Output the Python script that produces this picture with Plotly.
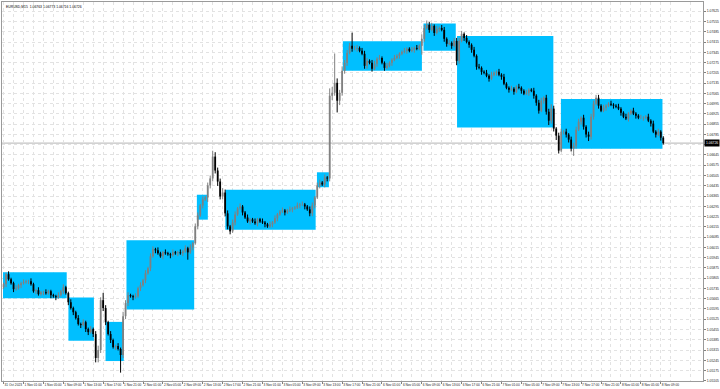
import plotly.graph_objects as go

# ---------------- data (EURUSD, 30-min candles) ----------------
first_open = 1.05743
closes = [
    1.05764, 1.05832, 1.05798, 1.05771, 1.05730, 1.05737, 1.05757, 1.05771, 1.05777, 1.05784,
    1.05784, 1.05764, 1.05716, 1.05723, 1.05696, 1.05709, 1.05709, 1.05703, 1.05716, 1.05689,
    1.05682, 1.05675, 1.05689, 1.05716, 1.05743, 1.05703, 1.05641, 1.05601, 1.05573, 1.05533,
    1.05492, 1.05485, 1.05505, 1.05458, 1.05437, 1.05458, 1.05424, 1.05261, 1.05315, 1.05655,
    1.05601, 1.05505, 1.05424, 1.05383, 1.05335, 1.05342, 1.05322, 1.05281, 1.05546, 1.05635,
    1.05689, 1.05682, 1.05675, 1.05682, 1.05737, 1.05757, 1.05791, 1.05839, 1.05873, 1.05954,
    1.06002, 1.05995, 1.05975, 1.05954, 1.05981, 1.05975, 1.05968, 1.05961, 1.05981, 1.05975,
    1.05981, 1.05975, 1.05988, 1.06009, 1.05981, 1.06015, 1.06043, 1.06158, 1.06233, 1.06301,
    1.06342, 1.06355, 1.06437, 1.06485, 1.06634, 1.06539, 1.06464, 1.06362, 1.06389, 1.06247,
    1.06158, 1.06124, 1.06185, 1.06240, 1.06281, 1.06294, 1.06253, 1.06219, 1.06192, 1.06206,
    1.06192, 1.06179, 1.06206, 1.06192, 1.06185, 1.06172, 1.06158, 1.06172, 1.06185, 1.06213,
    1.06240, 1.06260, 1.06267, 1.06253, 1.06267, 1.06274, 1.06281, 1.06287, 1.06301, 1.06308,
    1.06308, 1.06294, 1.06274, 1.06247, 1.06301, 1.06355, 1.06437, 1.06457, 1.06444, 1.06491,
    1.06485, 1.07049, 1.07069, 1.07137, 1.07015, 1.07069, 1.07219, 1.07273, 1.07341, 1.07389,
    1.07369, 1.07369, 1.07375, 1.07355, 1.07335, 1.07253, 1.07287, 1.07273, 1.07233, 1.07267,
    1.07301, 1.07307, 1.07273, 1.07239, 1.07253, 1.07273, 1.07294, 1.07307, 1.07321, 1.07335,
    1.07348, 1.07355, 1.07369, 1.07355, 1.07362, 1.07375, 1.07369, 1.07389, 1.07437, 1.07511,
    1.07532, 1.07498, 1.07525, 1.07477, 1.07505, 1.07511, 1.07498, 1.07437, 1.07403, 1.07409,
    1.07389, 1.07423, 1.07287, 1.07423, 1.07471, 1.07443, 1.07416, 1.07396, 1.07362, 1.07321,
    1.07246, 1.07239, 1.07212, 1.07205, 1.07185, 1.07165, 1.07192, 1.07205, 1.07212, 1.07192,
    1.07178, 1.07131, 1.07103, 1.07090, 1.07097, 1.07076, 1.07110, 1.07103, 1.07083, 1.07063,
    1.07069, 1.07090, 1.07083, 1.07049, 1.07001, 1.06947, 1.07015, 1.07035, 1.06940, 1.06879,
    1.06961, 1.06825, 1.06777, 1.06675, 1.06804, 1.06804, 1.06784, 1.06750, 1.06689, 1.06709,
    1.06818, 1.06872, 1.06899, 1.06838, 1.06784, 1.06770, 1.06906, 1.06995, 1.07035, 1.06981,
    1.06947, 1.06967, 1.06981, 1.06995, 1.06988, 1.06981, 1.06974, 1.06961, 1.06933, 1.06906,
    1.06893, 1.06927, 1.06947, 1.06927, 1.06913, 1.06899, 1.06899, 1.06899, 1.06906, 1.06879,
    1.06859, 1.06804, 1.06784, 1.06804, 1.06763, 1.06726,
]
# upper / lower wick length beyond the body, in pips
wick_up = [
    1, 1, 2, 1, 1, 2, 1, 1, 2, 1,  1, 2, 1, 1, 2, 1, 1, 2, 1, 1,
    1, 1, 2, 1, 2, 1, 1, 2, 1, 1,  2, 1, 2, 1, 1, 2, 1, 2, 3, 2,
    5, 2, 1, 2, 1, 1, 2, 1, 3, 2,  2, 1, 1, 2, 1, 2, 1, 2, 1, 2,
    2, 1, 2, 1, 1, 2, 1, 1, 2, 1,  1, 2, 1, 2, 1, 2, 1, 2, 2, 1,
    2, 1, 2, 2, 4, 3, 2, 2, 3, 2,  2, 1, 2, 2, 1, 2, 1, 1, 2, 1,
    1, 2, 1, 1, 2, 1, 1, 2, 1, 2,  1, 1, 2, 1, 1, 2, 1, 1, 2, 1,
    2, 1, 1, 2, 2, 1, 2, 2, 1, 2,  1, 5, 4, 20, 3, 2, 3, 2, 2, 2,
    9, 2, 2, 1, 2, 2, 2, 1, 2, 2,  1, 2, 1, 1, 2, 1, 1, 2, 1, 1,
    1, 2, 1, 1, 2, 1, 2, 1, 3, 2,  3, 2, 2, 1, 2, 1, 2, 2, 1, 2,
    1, 2, 2, 2, 2, 1, 2, 1, 1, 2,  1, 2, 1, 1, 2, 1, 2, 1, 1, 2,
    1, 2, 1, 1, 2, 1, 1, 2, 1, 1,  2, 1, 1, 2, 1, 2, 2, 1, 2, 2,
    3, 2, 1, 2, 2, 1, 2, 1, 2, 2,  2, 2, 1, 2, 1, 2, 2, 2, 2, 2,
    1, 2, 1, 1, 2, 1, 1, 2, 1, 1,  2, 1, 1, 2, 1, 1, 2, 1, 1, 2,
    1, 2, 1, 2, 1, 1,
]
wick_dn = [
    1, 2, 1, 1, 2, 1, 1, 2, 1, 1,  2, 1, 1, 2, 1, 1, 2, 1, 1, 2,
    1, 2, 1, 1, 2, 1, 2, 1, 2, 1,  1, 2, 1, 2, 2, 1, 2, 3, 3, 2,
    2, 2, 1, 2, 1, 2, 1, 12, 2, 2,  2, 1, 2, 1, 1, 2, 1, 2, 1, 2,
    1, 2, 1, 1, 2, 1, 1, 2, 1, 1,  2, 1, 2, 1, 5, 1, 2, 1, 2, 1,
    2, 1, 3, 2, 2, 2, 3, 2, 2, 2,  2, 2, 1, 2, 1, 1, 2, 1, 1, 2,
    1, 1, 2, 1, 1, 2, 1, 1, 2, 1,  2, 1, 1, 2, 1, 1, 2, 1, 1, 2,
    1, 2, 1, 2, 2, 2, 1, 2, 1, 2,  2, 2, 3, 2, 8, 3, 2, 2, 2, 1,
    2, 1, 2, 1, 1, 2, 2, 1, 2, 1,  2, 1, 1, 2, 1, 1, 2, 1, 1, 2,
    1, 1, 2, 1, 1, 2, 1, 1, 6, 2,  1, 2, 1, 2, 1, 2, 1, 2, 2, 1,
    2, 1, 3, 2, 1, 2, 1, 2, 2, 1,  2, 1, 2, 1, 1, 2, 1, 1, 2, 1,
    2, 1, 1, 2, 1, 2, 1, 1, 2, 1,  1, 2, 1, 2, 2, 2, 1, 2, 2, 3,
    2, 2, 3, 2, 1, 2, 2, 2, 2, 5,  2, 1, 2, 2, 2, 3, 2, 2, 1, 2,
    1, 1, 2, 1, 1, 2, 1, 1, 2, 1,  1, 2, 1, 1, 2, 1, 1, 2, 1, 1,
    2, 1, 2, 1, 2, 1,
]
# supply / demand zones: first candle, last candle (fractional), low, high
zone_start = [-0.24, 26.04, 40.96, 49.36, 77.64, 89.08, 125.88, 136.28, 168.68, 182.16, 223.88]
zone_end = [25.36, 36.28, 48.28, 76.56, 82.04, 125.36, 130.68, 168.04, 181.64, 220.84, 264.68]
zone_low = [1.05669, 1.05378, 1.05240, 1.05592, 1.06204, 1.06136, 1.06425, 1.07219, 1.07355, 1.06833, 1.06687]
zone_high = [1.05845, 1.05673, 1.05507, 1.06063, 1.06374, 1.06408, 1.06527, 1.07421, 1.07541, 1.07457, 1.07027]

time_labels = [
    "31 Oct 2023", "1 Nov 01:00", "1 Nov 05:00", "1 Nov 09:00", "1 Nov 13:00", "1 Nov 17:00",
    "1 Nov 21:00", "2 Nov 01:00", "2 Nov 05:00", "2 Nov 09:00", "2 Nov 13:00", "2 Nov 17:00",
    "2 Nov 21:00", "3 Nov 01:00", "3 Nov 05:00", "3 Nov 09:00", "3 Nov 13:00", "3 Nov 17:00",
    "3 Nov 21:00", "6 Nov 01:00", "6 Nov 05:00", "6 Nov 09:00", "6 Nov 13:00", "6 Nov 17:00",
    "6 Nov 21:00", "7 Nov 01:00", "7 Nov 05:00", "7 Nov 09:00", "7 Nov 13:00", "7 Nov 17:00",
    "7 Nov 21:00", "8 Nov 01:00", "8 Nov 05:00", "8 Nov 09:00",
]
price_labels = [
    1.07625, 1.07555, 1.07485, 1.07415, 1.07345, 1.07275, 1.07205, 1.07135, 1.07065, 1.06995,
    1.06925, 1.06855, 1.06785, 1.06715, 1.06645, 1.06575, 1.06505, 1.06435, 1.06365, 1.06295,
    1.06225, 1.06155, 1.06085, 1.06015, 1.05945, 1.05875, 1.05805, 1.05735, 1.05665, 1.05595,
    1.05525, 1.05455, 1.05385, 1.05315, 1.05245, 1.05175, 1.05105,
]
BARS_PER_LABEL = 8   # 4 hours of 30-min candles
PIP = 0.0001

# ---------------- build OHLC ----------------
opens = [first_open] + closes[:-1]
highs = [max(o, c) + u * PIP for o, c, u in zip(opens, closes, wick_up)]
lows = [min(o, c) - d * PIP for o, c, d in zip(opens, closes, wick_dn)]

up_wx, up_wy, up_bx, up_by = [], [], [], []
dn_wx, dn_wy, dn_bx, dn_by = [], [], [], []
for i, (o, h, l, c) in enumerate(zip(opens, highs, lows, closes)):
    if c >= o:
        up_wx += [i, i, None]; up_wy += [l, h, None]
        up_bx += [i, i, None]; up_by += [o, c, None]
    else:
        dn_wx += [i, i, None]; dn_wy += [l, h, None]
        dn_bx += [i, i, None]; dn_by += [o, c, None]

UP_COL = "#808080"
DN_COL = "#000000"

fig = go.Figure()
fig.add_trace(go.Scatter(x=up_wx, y=up_wy, mode="lines", line=dict(color=UP_COL, width=1), hoverinfo="skip"))
fig.add_trace(go.Scatter(x=dn_wx, y=dn_wy, mode="lines", line=dict(color=DN_COL, width=1), hoverinfo="skip"))
fig.add_trace(go.Scatter(x=up_bx, y=up_by, mode="lines", line=dict(color=UP_COL, width=1.8), hoverinfo="skip"))
fig.add_trace(go.Scatter(x=dn_bx, y=dn_by, mode="lines", line=dict(color=DN_COL, width=1.8), hoverinfo="skip"))

for x0, x1, y0, y1 in zip(zone_start, zone_end, zone_low, zone_high):
    fig.add_shape(type="rect", xref="x", yref="y", x0=x0, x1=x1, y0=y0, y1=y1,
                  fillcolor="#00BFFF", line=dict(width=0), layer="between")

last_close = closes[-1]
fig.add_shape(type="line", xref="paper", yref="y", x0=0, x1=1, y0=last_close, y1=last_close,
              line=dict(color="#b4b4b4", width=1), layer="between")

FONT = "Liberation Sans"
fig.add_annotation(x=1, xref="paper", y=last_close, yref="y", xanchor="left", yanchor="middle",
                   text=f"{last_close:.5f}", showarrow=False, bgcolor="#000000",
                   font=dict(family=FONT, size=3.4, color="#ffffff"), borderpad=1, xshift=1)
fig.add_annotation(x=0, xref="paper", y=1, yref="paper", xanchor="left", yanchor="top",
                   text=f"EURUSD,M15  {opens[-1]:.5f} {highs[-1]:.5f} {lows[-1]:.5f} {closes[-1]:.5f}",
                   showarrow=False, font=dict(family=FONT, size=3.4, color="#000000"), xshift=2, yshift=-1)

# the price tag hides the axis label it sits on, as in the terminal
price_text = ["" if abs(v - last_close) < 0.00025 else f"{v:.5f}" for v in price_labels]

GRID = "#e2e2e2"
fig.update_layout(
    width=720, height=389,
    margin=dict(l=1, r=15, t=1, b=8),
    paper_bgcolor="#ffffff", plot_bgcolor="#ffffff",
    showlegend=False,
    font=dict(family=FONT, size=3.4, color="#222222"),
)
fig.update_xaxes(
    range=[-0.64, 280.96], fixedrange=True,
    tickvals=[BARS_PER_LABEL * k for k in range(len(time_labels))], ticktext=time_labels,
    tickangle=0, ticklabelposition="outside right", ticks="outside", ticklen=2, tickcolor="#808080",
    showgrid=True, gridcolor=GRID, griddash="dot", gridwidth=1,
    minor=dict(tickvals=[BARS_PER_LABEL * k + BARS_PER_LABEL // 2 for k in range(len(time_labels) + 1)],
               showgrid=True, gridcolor=GRID, griddash="dot", gridwidth=1, ticks=""),
    showline=True, linecolor="#9a9a9a", linewidth=1, mirror=True, zeroline=False,
    tickfont=dict(family=FONT, size=3.2, color="#222222"),
)
fig.update_yaxes(
    range=[1.05104, 1.07688], fixedrange=True, side="right",
    tickvals=price_labels, ticktext=price_text,
    ticks="outside", ticklen=2, tickcolor="#808080",
    showgrid=True, gridcolor=GRID, griddash="dot", gridwidth=1,
    showline=True, linecolor="#9a9a9a", linewidth=1, mirror=True, zeroline=False,
    tickfont=dict(family=FONT, size=3.4, color="#222222"),
)

fig.write_html("out.html")
